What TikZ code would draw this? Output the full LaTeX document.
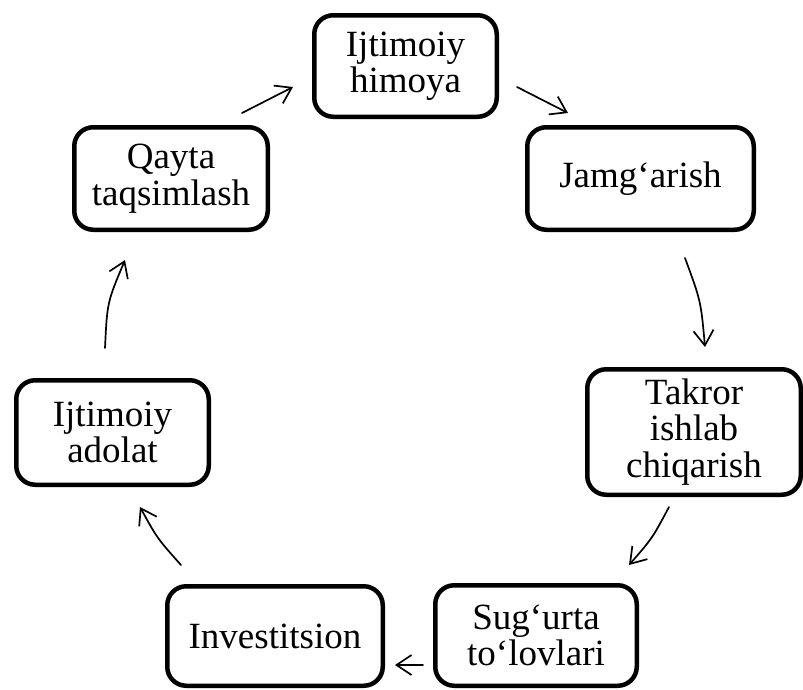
\documentclass[tikz,border=0pt]{standalone}
\usepackage{fontspec}
\setmainfont{Liberation Serif}
\usetikzlibrary{arrows.meta}
\begin{document}
\begin{tikzpicture}[x=1pt,y=-1pt,
  box/.style={draw, line width=4.5pt, rounded corners=19pt, align=center,
    inner sep=0pt, font=\fontsize{37}{36.5}\selectfont},
  flow/.style={line width=1.7pt, line cap=round,
    -{Straight Barb[length=15pt,width=20pt]}}]
\useasboundingbox (0,0) rectangle (803,689);

% the seven stages of the cycle
\node[box, minimum width=182.5pt, minimum height=101.5pt] (himoya)  at (405.5,66)  {Ijtimoiy\\himoya};
\node[box, minimum width=226.5pt, minimum height=102.5pt] (jamg)    at (640.5,178.5) {Jamg‘arish};
\node[box, minimum width=213.5pt, minimum height=125.5pt] (takror)  at (694,432)   {Takror\\ishlab\\chiqarish};
\node[box, minimum width=201.5pt, minimum height=100.5pt] (sugurta) at (536,635.5) {Sug‘urta\\to‘lovlari};
\node[box, minimum width=215.5pt, minimum height=99.5pt]  (invest)  at (275,636)   {Investitsion};
\node[box, minimum width=192.5pt, minimum height=104.5pt] (adolat)  at (112.5,432.5) {Ijtimoiy\\adolat};
\node[box, minimum width=193.5pt, minimum height=102.5pt] (qayta)   at (171,178.5) {Qayta\\taqsimlash};

% free ends of the arrows between the stages
\coordinate (a1s) at (242,113);  \coordinate (a1e) at (293,87);
\coordinate (a2s) at (517,87);   \coordinate (a2e) at (568,113);
\coordinate (a3s) at (685,258);  \coordinate (a3c) at (700.9,301.2); \coordinate (a3e) at (705,347);
\coordinate (a4s) at (669,507);  \coordinate (a4c) at (652.3,538.3); \coordinate (a4e) at (629,565);
\coordinate (a5s) at (423,665);  \coordinate (a5e) at (395,665);
\coordinate (a6s) at (181,565);  \coordinate (a6c) at (157.2,538.3); \coordinate (a6e) at (140,507);
\coordinate (a7s) at (105,348);  \coordinate (a7c) at (107.2,302.2); \coordinate (a7e) at (125,260);

\draw[flow] (a1s) -- (a1e);
\draw[flow] (a2s) -- (a2e);
\draw[flow] (a3s) .. controls (a3c) .. (a3e);
\draw[flow] (a4s) .. controls (a4c) .. (a4e);
\draw[flow] (a5s) -- (a5e);
\draw[flow] (a6s) .. controls (a6c) .. (a6e);
\draw[flow] (a7s) .. controls (a7c) .. (a7e);
\end{tikzpicture}
\end{document}
